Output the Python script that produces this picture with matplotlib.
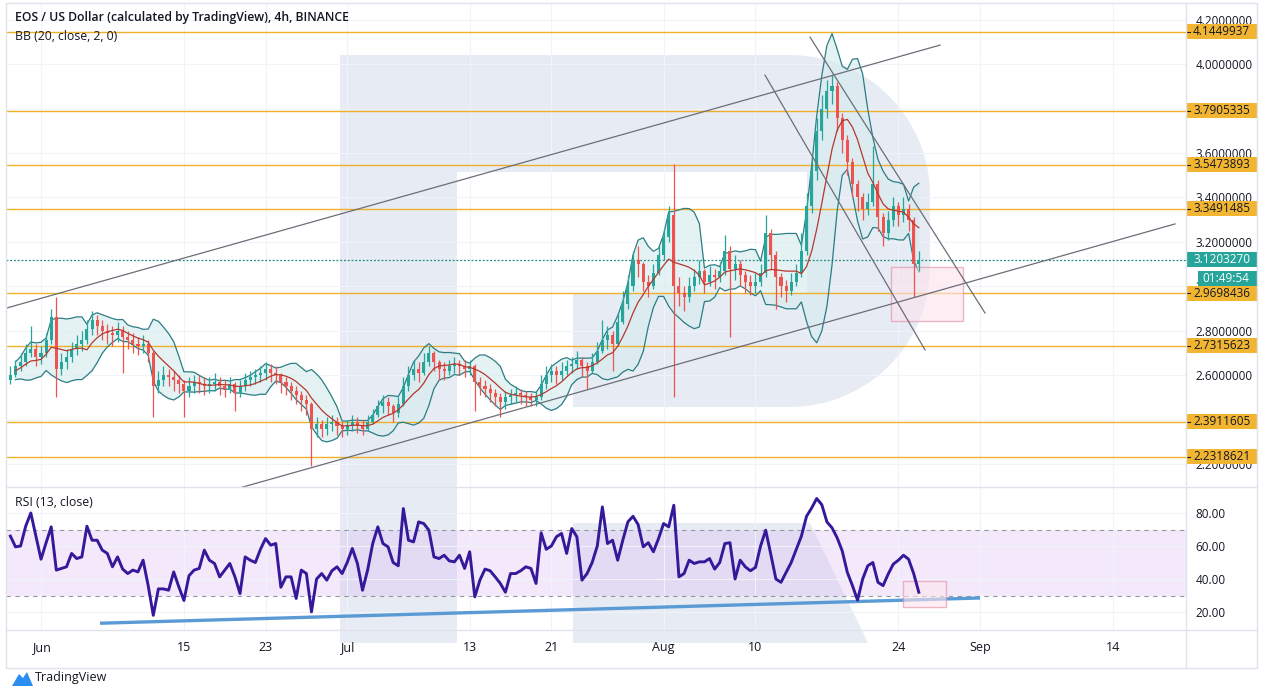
import numpy as np
import pandas as pd
import matplotlib
matplotlib.use('Agg')
import matplotlib.pyplot as plt
import matplotlib.dates as mdates
from matplotlib.patches import Rectangle, Polygon
from matplotlib.lines import Line2D
from matplotlib.transforms import blended_transform_factory

plt.rcParams['font.family'] = ['Open Sans', 'DejaVu Sans']

W, H = 1264, 697

# 12h candles, starting 2020-05-29 00:00
first_open = 2.58
close = [2.60, 2.64, 2.66, 2.70, 2.72, 2.68, 2.70, 2.76, 2.86, 2.63,
         2.66, 2.68, 2.72, 2.74, 2.76, 2.81, 2.85, 2.82, 2.80, 2.79,
         2.78, 2.80, 2.77, 2.76, 2.74, 2.73, 2.74, 2.70, 2.55, 2.58,
         2.60, 2.59, 2.58, 2.56, 2.53, 2.55, 2.57, 2.56, 2.55, 2.56,
         2.57, 2.55, 2.54, 2.56, 2.52, 2.55, 2.58, 2.59, 2.60, 2.61,
         2.63, 2.61, 2.60, 2.57, 2.55, 2.53, 2.51, 2.49, 2.47, 2.36,
         2.38, 2.36, 2.38, 2.39, 2.37, 2.36, 2.37, 2.39, 2.37, 2.36,
         2.39, 2.42, 2.46, 2.48, 2.46, 2.43, 2.47, 2.55, 2.60, 2.63,
         2.61, 2.66, 2.70, 2.66, 2.63, 2.62, 2.64, 2.65, 2.64, 2.63,
         2.64, 2.57, 2.55, 2.54, 2.52, 2.50, 2.48, 2.50, 2.51, 2.52,
         2.51, 2.50, 2.49, 2.50, 2.56, 2.60, 2.62, 2.60, 2.62, 2.64,
         2.65, 2.67, 2.64, 2.62, 2.66, 2.71, 2.76, 2.78, 2.74, 2.84,
         2.92, 3.00, 3.12, 3.10, 3.02, 3.00, 3.06, 3.14, 3.22, 3.32,
         3.00, 2.97, 2.95, 3.00, 3.04, 3.07, 3.02, 3.05, 3.04, 3.07,
         3.16, 3.08, 3.10, 3.05, 3.02, 3.00, 3.02, 3.06, 3.24, 3.14,
         3.04, 3.00, 2.98, 3.02, 3.06, 3.16, 3.36, 3.52, 3.70, 3.80,
         3.88, 3.90, 3.76, 3.66, 3.56, 3.46, 3.40, 3.35, 3.38, 3.46,
         3.31, 3.24, 3.30, 3.36, 3.32, 3.35, 3.30, 3.10, 3.12]
high = [2.64, 2.67, 2.70, 2.74, 2.82, 2.74, 2.73, 2.79, 2.90, 2.95,
        2.70, 2.72, 2.75, 2.78, 2.80, 2.85, 2.89, 2.87, 2.85, 2.83,
        2.82, 2.84, 2.82, 2.80, 2.79, 2.77, 2.78, 2.76, 2.71, 2.62,
        2.64, 2.63, 2.62, 2.60, 2.58, 2.59, 2.60, 2.60, 2.59, 2.59,
        2.61, 2.59, 2.58, 2.59, 2.57, 2.58, 2.61, 2.62, 2.63, 2.64,
        2.66, 2.65, 2.64, 2.61, 2.59, 2.57, 2.55, 2.53, 2.51, 2.48,
        2.41, 2.40, 2.41, 2.42, 2.41, 2.39, 2.40, 2.42, 2.41, 2.40,
        2.42, 2.45, 2.49, 2.51, 2.50, 2.47, 2.50, 2.59, 2.64, 2.67,
        2.66, 2.70, 2.73, 2.71, 2.67, 2.66, 2.67, 2.68, 2.67, 2.67,
        2.67, 2.65, 2.59, 2.58, 2.56, 2.54, 2.52, 2.53, 2.54, 2.55,
        2.54, 2.53, 2.52, 2.53, 2.60, 2.64, 2.65, 2.64, 2.66, 2.67,
        2.68, 2.71, 2.68, 2.66, 2.70, 2.75, 2.85, 2.82, 2.80, 2.88,
        2.98, 3.05, 3.16, 3.18, 3.11, 3.05, 3.10, 3.18, 3.26, 3.36,
        3.55, 3.04, 3.00, 3.04, 3.08, 3.12, 3.08, 3.09, 3.08, 3.11,
        3.23, 3.18, 3.14, 3.12, 3.07, 3.05, 3.06, 3.10, 3.32, 3.26,
        3.16, 3.06, 3.03, 3.06, 3.10, 3.24, 3.42, 3.58, 3.76, 3.86,
        3.93, 3.95, 3.92, 3.78, 3.68, 3.58, 3.48, 3.42, 3.42, 3.63,
        3.48, 3.33, 3.34, 3.40, 3.38, 3.40, 3.37, 3.31, 3.16]
low = [2.56, 2.59, 2.62, 2.64, 2.68, 2.64, 2.65, 2.68, 2.74, 2.50,
       2.60, 2.63, 2.66, 2.69, 2.71, 2.74, 2.78, 2.78, 2.76, 2.74,
       2.73, 2.75, 2.61, 2.72, 2.70, 2.69, 2.70, 2.66, 2.41, 2.52,
       2.55, 2.55, 2.53, 2.52, 2.41, 2.50, 2.52, 2.52, 2.51, 2.52,
       2.53, 2.51, 2.50, 2.52, 2.44, 2.50, 2.53, 2.55, 2.56, 2.57,
       2.58, 2.57, 2.56, 2.52, 2.51, 2.49, 2.47, 2.44, 2.42, 2.19,
       2.32, 2.32, 2.33, 2.35, 2.33, 2.32, 2.33, 2.35, 2.34, 2.33,
       2.35, 2.38, 2.41, 2.43, 2.42, 2.39, 2.41, 2.46, 2.53, 2.58,
       2.57, 2.60, 2.64, 2.62, 2.58, 2.58, 2.60, 2.61, 2.60, 2.59,
       2.60, 2.44, 2.51, 2.50, 2.48, 2.46, 2.41, 2.45, 2.47, 2.48,
       2.47, 2.46, 2.46, 2.46, 2.49, 2.54, 2.57, 2.56, 2.58, 2.60,
       2.61, 2.63, 2.59, 2.54, 2.61, 2.65, 2.70, 2.72, 2.62, 2.73,
       2.83, 2.90, 2.98, 3.04, 2.98, 2.95, 2.99, 3.05, 3.12, 3.20,
       2.50, 2.91, 2.89, 2.93, 2.98, 3.01, 2.97, 3.00, 2.99, 3.02,
       3.05, 2.77, 3.03, 3.00, 2.97, 2.96, 2.97, 3.00, 3.04, 3.08,
       2.90, 2.95, 2.93, 2.96, 3.00, 3.04, 3.14, 3.33, 3.48, 3.66,
       3.76, 3.82, 3.70, 3.60, 3.50, 3.40, 3.34, 3.30, 3.32, 3.36,
       3.25, 3.18, 3.21, 3.27, 3.27, 3.29, 3.25, 2.95, 3.07]
rsi = [66, 59.5, 60, 72, 80, 66, 52, 62, 71.6, 45.4,
       46.4, 47.4, 55.5, 52.4, 53.4, 72, 63.5, 63.5, 57.5, 55.5,
       47.4, 53.4, 46, 43.3, 45.4, 44.3, 51.4, 36, 18, 34,
       34, 33.2, 44.3, 35.3, 27, 42, 45.4, 46.4, 57.5, 51.4,
       49.4, 41.3, 45.4, 49.4, 41.3, 31.2, 53.4, 51.4, 50, 58,
       64.5, 60.5, 61.5, 35, 41.3, 41.3, 28.2, 45.4, 43.3, 20.1,
       40, 43.3, 39.3, 45, 47.4, 43.3, 50, 58.5, 49.4, 33.2,
       45.4, 61.5, 71.6, 61.5, 59.5, 50, 48, 82.7, 63.5, 62.5,
       74.6, 73.6, 69.6, 53.4, 52.4, 54.4, 51, 50.4, 54.4, 46.4,
       56.5, 29.2, 39.3, 46, 45, 41.3, 37.3, 32, 43.3, 43.3,
       45, 47.4, 46.4, 37.3, 68, 58, 60, 65.6, 67.6, 55.5,
       70.6, 65.6, 39.3, 43.3, 50, 60, 83.7, 61.5, 63.5, 51.4,
       63.5, 74.6, 78, 73, 59.5, 62, 56.5, 64.5, 73.6, 71.6,
       84.7, 41.3, 43.3, 51.4, 49.4, 50.4, 50.4, 52.4, 46, 50,
       61.5, 62, 40, 51.4, 47.4, 45, 47, 60, 69.6, 55,
       40, 38, 44, 50, 58, 66, 78, 83, 88.8, 85,
       74.6, 71, 65, 57, 44, 36, 27.2, 40, 48, 50,
       38, 36, 43, 49, 51.4, 54.4, 52, 43.3, 32]

levels = [4.1449937, 3.7905335, 3.5473893, 3.3491485,
          2.9698436, 2.7315623, 2.3911605, 2.2318621]
last_price = 3.1203270
countdown = '01:49:54'
price_ticks = [2.2, 2.4, 2.6, 2.8, 3.0, 3.2, 3.4, 3.6, 3.8, 4.0, 4.2]
hidden_ticks = [2.4, 3.8]  # fully covered by the level labels
rsi_ticks = [20, 40, 60, 80]
date_ticks = ['2020-06-01', '2020-06-15', '2020-06-23', '2020-07-01', '2020-07-13',
              '2020-07-21', '2020-08-01', '2020-08-10', '2020-08-24', '2020-09-01',
              '2020-09-14']
date_labels = ['Jun', '15', '23', 'Jul', '13', '21', 'Aug', '10', '24', 'Sep', '14']

# drawn trend lines: (start date, start price, end date, end price)
trend_lines = [('2020-05-27 23:30', 2.894, '2020-08-28 02:00', 4.086),
               ('2020-06-19 00:40', 2.074, '2020-09-20 02:30', 3.281),
               ('2020-08-10 22:20', 3.951, '2020-08-26 14:40', 2.714),
               ('2020-08-15 08:10', 4.122, '2020-09-01 11:45', 2.880)]
price_box = ('2020-08-23 06:40', '2020-08-30 08:00', 2.844, 3.087)
rsi_box = ('2020-08-24 10:48', '2020-08-28 16:00', 23.0, 38.8)
rsi_trend = ('2020-06-06 18:40', 13.2, '2020-09-01 00:00', 28.5)

GREEN = '#26a69a'
RED = '#ef5350'
YELLOW = '#f2b531'
TEXT = '#131722'
BORDER = '#e0e3eb'


def px(x, y):
    return (x / W, 1 - y / H)


def num(s):
    return mdates.date2num(pd.Timestamp(s))


fig = plt.figure(figsize=(W / 100, H / 100), dpi=100, facecolor='white')

# RoboForex style "R" watermark behind the panes
t1 = np.linspace(np.pi / 2, 0, 20)
t2 = np.linspace(0, -np.pi / 2, 20)
outer = [(340, 55), (790, 55)]
outer += [(790 + 140 * np.cos(t), 195 - 140 * np.sin(t)) for t in t1]
outer += [(790 + 140 * np.cos(t), 267 - 140 * np.sin(t)) for t in t2]
outer += [(573, 407), (573, 293), (807, 293), (807, 172), (457, 172), (457, 643), (340, 643)]
leg = [(573, 523), (810, 523), (868, 643), (573, 643)]
for shape in (outer, leg):
    fig.add_artist(Polygon([px(x, y) for x, y in shape], closed=True,
                           transform=fig.transFigure, fc='#e6ebf4', ec='none', zorder=-5))

ax = fig.add_axes([6 / W, 1 - 487 / H, 1180 / W, 484 / H])
ax2 = fig.add_axes([6 / W, 1 - 630 / H, 1180 / W, 142 / H], sharex=ax)
for a in (ax, ax2):
    a.set_facecolor('none')
    for s in a.spines.values():
        s.set_visible(False)

times = pd.date_range('2020-05-29', periods=len(close), freq='12h')
xs = mdates.date2num(times)
c = np.array(close)
o = np.array([first_open] + close[:-1])
hi = np.array(high)
lo = np.array(low)
up = c >= o
cols = np.where(up, GREEN, RED)

# Bollinger bands from the closes
s = pd.Series(close)
mid = s.rolling(7, min_periods=2).mean()
sd = s.rolling(7, min_periods=2).std(ddof=0)
upper = mid + 2 * sd
lower = mid - 2 * sd
ax.fill_between(xs, lower, upper, color='#d6ecef', alpha=0.65, lw=0, zorder=1)
ax.plot(xs, upper, color='#2b7d83', lw=0.9, zorder=2)
ax.plot(xs, lower, color='#2b7d83', lw=0.9, zorder=2)

for lvl in levels:
    ax.axhline(lvl, color='#efb12c', lw=1, zorder=1.5)
ax.axhline(last_price, color='#1f8a80', lw=0.9, ls=(0, (1.5, 1.5)), zorder=1.5)

ax.vlines(xs, lo, hi, colors=cols, lw=0.9, zorder=3)
ax.bar(xs, np.abs(c - o), bottom=np.minimum(o, c), width=0.3, color=cols, lw=0, zorder=3)
ax.plot(xs, mid, color='#b4392f', lw=0.9, zorder=4)

for x0, y0, x1, y1 in trend_lines:
    ax.plot([num(x0), num(x1)], [y0, y1], color='#6b6e78', lw=0.9, zorder=4)

bx0, bx1, by0, by1 = price_box
ax.add_patch(Rectangle((num(bx0), by0), num(bx1) - num(bx0), by1 - by0,
                       fc='#fce4ec', ec='#e58aa6', lw=1, alpha=0.6, zorder=2))

base = num('2020-06-01')
ax.set_xlim(base - 3.43, base + 112.18)
ax.set_ylim(2.0968, 4.2755)
ax.set_yticks(price_ticks)
ax.set_yticklabels(['' if v in hidden_ticks else f'{v:.7f}' for v in price_ticks])
ax.yaxis.tick_right()
ax.tick_params(axis='y', length=0, pad=7, labelsize=8.5, labelcolor=TEXT)
ax.tick_params(axis='x', length=0, labelbottom=False)
ax.grid(True, color='#f0f3fa', lw=0.8, zorder=0)
ax.set_axisbelow(True)

# right side labels
bt = blended_transform_factory(ax.transAxes, ax.transData)
hh = 7.5 / 222.15
bw = 71 / 1180
for lvl in levels:
    ax.add_patch(Rectangle((1.0, lvl - hh), bw, 2 * hh, transform=bt,
                           fc=YELLOW, ec='none', clip_on=False, zorder=6))
    ax.add_artist(Line2D([1.0 + 1 / 1180, 1.0 + 4 / 1180], [lvl, lvl], transform=bt,
                         color=TEXT, lw=0.8, clip_on=False, zorder=7))
    ax.text(1.0 + 7 / 1180, lvl, f'{lvl:.7f}', transform=bt, ha='left', va='center',
            fontsize=8.5, color=TEXT, zorder=7, clip_on=False)
ax.add_patch(Rectangle((1.0, last_price - hh), bw, 2 * hh, transform=bt,
                       fc=GREEN, ec='none', clip_on=False, zorder=6))
ax.text(1.0 + 7 / 1180, last_price, f'{last_price:.7f}', transform=bt, ha='left',
        va='center', fontsize=8.5, color='white', zorder=7, clip_on=False)
cd = last_price - 18.4 / 222.15
ax.add_patch(Rectangle((1.0 + 12 / 1180, cd - hh), bw - 12 / 1180, 2 * hh, transform=bt,
                       fc=GREEN, ec='none', clip_on=False, zorder=6))
ax.text(1.0 + 16 / 1180, cd, countdown, transform=bt, ha='left', va='center',
        fontsize=8.5, color='white', zorder=7, clip_on=False)

# RSI pane
ax2.axhspan(30, 70, color='#dcbdf3', alpha=0.33, lw=0, zorder=0.5)
for v in (70, 30):
    ax2.axhline(v, color='#9598a1', lw=0.8, ls=(0, (4, 4)), zorder=1)
rx0, ry0, rx1, ry1 = rsi_trend
ax2.plot([num(rx0), num(rx1)], [ry0, ry1], color='#5b9bd5', lw=2.4, zorder=2,
         solid_capstyle='butt')
ax2.plot(xs, rsi, color='#35199a', lw=2.1, zorder=3)
qx0, qx1, qy0, qy1 = rsi_box
ax2.add_patch(Rectangle((num(qx0), qy0), num(qx1) - num(qx0), qy1 - qy0,
                        fc='#fce4ec', ec='#e58aa6', lw=1, alpha=0.6, zorder=2.5))
ax2.set_ylim(9.1, 95.15)
ax2.set_yticks(rsi_ticks)
ax2.set_yticklabels([f'{v:.2f}' for v in rsi_ticks])
ax2.yaxis.tick_right()
ax2.tick_params(axis='y', length=0, pad=7, labelsize=8.5, labelcolor=TEXT)
ax2.set_xticks([num(d) for d in date_ticks])
ax2.set_xticklabels(date_labels)
ax2.tick_params(axis='x', length=0, pad=8, labelsize=9, labelcolor=TEXT)
ax2.grid(True, color='#f0f3fa', lw=0.8, zorder=0)
ax2.set_axisbelow(True)

# frame and pane separators
fig.add_artist(Rectangle(px(6, 668), 1251 / W, 665 / H, transform=fig.transFigure,
                         fc='none', ec=BORDER, lw=1, zorder=10))
for y in (487, 630):
    fig.add_artist(Line2D([6 / W, 1257 / W], [1 - y / H, 1 - y / H],
                          transform=fig.transFigure, color=BORDER, lw=1, zorder=10))
fig.add_artist(Line2D([1186 / W, 1186 / W], [1 - 668 / H, 1 - 3 / H],
                      transform=fig.transFigure, color=BORDER, lw=1, zorder=10))

# legends in the panes
fig.text(*px(15, 18), 'EOS / US Dollar (calculated by TradingView), 4h, BINANCE',
         fontsize=8.8, fontweight='semibold', color=TEXT, va='center')
fig.text(*px(15, 37), 'BB (20, close, 2, 0)', fontsize=8.8, color=TEXT, va='center')
fig.text(*px(15, 502), 'RSI (13, close)', fontsize=8.8, color=TEXT, va='center')

# TradingView logo
logo = [(12, 686), (19, 674), (23, 678), (27, 672), (33, 686)]
fig.add_artist(Polygon([px(x, y) for x, y in logo], closed=True,
                       transform=fig.transFigure, fc='#2a8ef0', ec='none', zorder=10))
fig.text(*px(35, 678), 'TradingView', fontsize=9, color=TEXT, va='center')

fig.savefig('out.png', dpi=100, facecolor='white')
